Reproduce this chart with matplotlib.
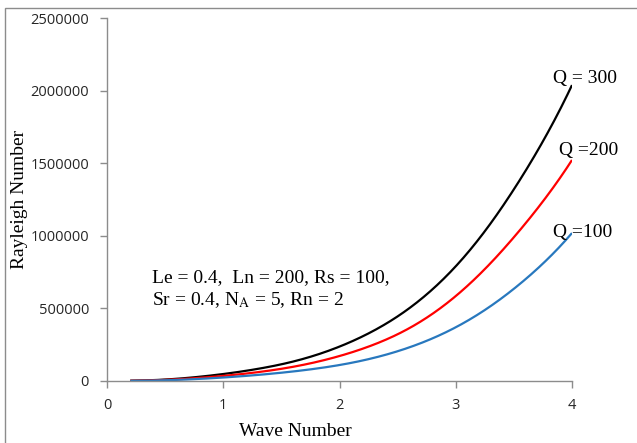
import numpy as np
import matplotlib
matplotlib.use("Agg")
import matplotlib.pyplot as plt
from matplotlib.patches import Rectangle

# ---- data ----
wave_number = [0.2, 0.5, 1.0, 1.5, 2.0, 2.5, 3.0, 3.5, 4.0]
ra_q300 = [2000, 10000, 48000, 115000, 237000, 445000, 790000, 1320000, 2038000]
ra_q200 = [1500, 7500, 35000, 84000, 172000, 322000, 585000, 990000, 1522000]
ra_q100 = [1000, 5000, 24000, 57000, 110000, 205000, 370000, 635000, 1019000]
series_labels = ["Q = 300", "Q =200", "Q =100"]
series_colors = ["#000000", "#FF0000", "#2878BE"]
x_ticks = [0, 1, 2, 3, 4]
y_ticks = [0, 500000, 1000000, 1500000, 2000000, 2500000]


def smooth(x, y, n=400):
    """Smoothed-line rendering: natural cubic spline through the points (on log y)."""
    x = np.asarray(x, float)
    ly = np.log(np.asarray(y, float))
    N = len(x)
    h = np.diff(x)
    A = np.zeros((N, N))
    b = np.zeros(N)
    A[0, 0] = A[-1, -1] = 1.0
    for i in range(1, N - 1):
        A[i, i - 1] = h[i - 1]
        A[i, i] = 2 * (h[i - 1] + h[i])
        A[i, i + 1] = h[i]
        b[i] = 6 * ((ly[i + 1] - ly[i]) / h[i] - (ly[i] - ly[i - 1]) / h[i - 1])
    M = np.linalg.solve(A, b)
    xs = np.linspace(x[0], x[-1], n)
    idx = np.clip(np.searchsorted(x, xs) - 1, 0, N - 2)
    hi = h[idx]
    a_ = (x[idx + 1] - xs)
    b_ = (xs - x[idx])
    lys = (M[idx] * a_**3 / (6 * hi) + M[idx + 1] * b_**3 / (6 * hi)
           + (ly[idx] / hi - M[idx] * hi / 6) * a_
           + (ly[idx + 1] / hi - M[idx + 1] * hi / 6) * b_)
    return xs, np.exp(lys)


plt.rcParams["mathtext.fontset"] = "stix"

W, H = 637, 443
fig = plt.figure(figsize=(W / 100, H / 100), dpi=100)
fig.patch.set_facecolor("white")

# outer chart border
fig.patches.append(Rectangle((5 / W, -0.05), 1.2, 1 - 8 / H + 0.05,
                             transform=fig.transFigure, fill=False,
                             edgecolor="#8C8C8C", linewidth=1.0))

ax = fig.add_axes([107 / W, 1 - 381 / H, (572 - 107) / W, (381 - 18) / H])

for yv, col in zip([ra_q300, ra_q200, ra_q100], series_colors):
    xs, ys = smooth(wave_number, yv)
    ax.plot(xs, ys, color=col, linewidth=1.6, solid_capstyle="butt")

ax.set_xlim(0, 4)
ax.set_ylim(0, 2500000)
ax.set_xticks(x_ticks)
ax.set_yticks(y_ticks)
ax.set_xticklabels([str(v) for v in x_ticks])
ax.set_yticklabels([str(v) for v in y_ticks])

for s in ["top", "right"]:
    ax.spines[s].set_visible(False)
for s in ["left", "bottom"]:
    ax.spines[s].set_color("#8C8C8C")
    ax.spines[s].set_linewidth(1.0)

ax.tick_params(axis="both", direction="out", length=5, width=1.0, color="#8C8C8C",
               labelsize=10.5, labelcolor="#262626")
ax.tick_params(axis="y", pad=8)
ax.tick_params(axis="x", pad=7)
for lab in ax.get_xticklabels() + ax.get_yticklabels():
    lab.set_family("Open Sans")

serif = "Liberation Serif"
fig.text(295 / W, 1 - 432 / H, "Wave Number", family=serif, fontsize=14,
         ha="center", va="center")
fig.text(20 / W, 1 - 199 / H, "Rayleigh Number", family=serif, fontsize=14,
         ha="center", va="center", rotation=90)

fig.text(152 / W, 1 - 278 / H, "Le = 0.4,  Ln = 200, Rs = 100,", family=serif,
         fontsize=14, ha="left", va="center")
fig.text(152 / W, 1 - 300 / H, r"Sr = 0.4, N$_{\mathrm{A}}$ = 5, Rn = 2", family=serif,
         fontsize=14, ha="left", va="center")

label_pos = [(553, 79), (559, 150), (553, 232)]
for (px, py), lab in zip(label_pos, series_labels):
    fig.text(px / W, 1 - py / H, lab, family=serif, fontsize=14, ha="left", va="center")

fig.savefig("out.png", dpi=100, facecolor="white")
